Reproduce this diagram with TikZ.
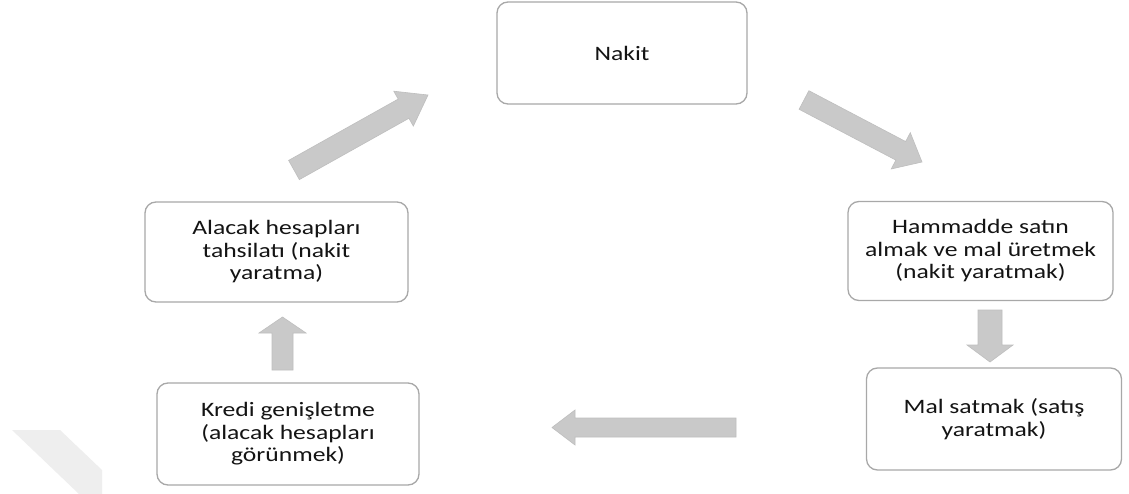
\documentclass[tikz,border=0pt]{standalone}
\usepackage{fontspec}
\setmainfont[FakeStretch=1.25]{Carlito}
\usetikzlibrary{calc}
\definecolor{boxline}{HTML}{A8A8A8}
\definecolor{arrowfill}{HTML}{C9C9C9}
\definecolor{arrowline}{HTML}{BEBEBE}
\definecolor{wm}{HTML}{EEEEEE}
\definecolor{txt}{HTML}{141414}
\tikzset{
  box/.style={draw=boxline, line width=1.3pt, rounded corners=11pt, fill=white,
    align=center, text=txt, font=\fontsize{20.5}{22.5}\selectfont, inner sep=0pt},
  blockarrowstyle/.style={fill=arrowfill, draw=arrowline, line width=0.6pt, line join=miter},
}
% #1 tail coordinate, #2 tip coordinate, #3 half shaft width, #4 half head width, #5 head length
\newcommand\myblockarrow[5]{%
  \coordinate (#1b) at ($(#2)!#5!(#1)$);
  \path[blockarrowstyle]
    ($(#1)!#3!90:(#2)$) -- ($(#1b)!#3!90:(#2)$) -- ($(#1b)!#4!90:(#2)$) --
    (#2) --
    ($(#1b)!#4!-90:(#2)$) -- ($(#1b)!#3!-90:(#2)$) -- ($(#1)!#3!-90:(#2)$) -- cycle;
}
\begin{document}
\begin{tikzpicture}[x=1pt,y=-1pt]
\fill[white] (0,0) rectangle (1129,494);
\useasboundingbox (0,0) rectangle (1129,494);
% faint watermark
\fill[wm] (12,430) -- (60,430) -- (102,470) -- (102,494) -- (79,494) -- cycle;

% boxes
\node[box, minimum width=250pt, minimum height=102pt] (nakit) at (622,53) {Nakit};
\node[box, minimum width=265pt, minimum height=99pt] (hammadde) at (980.5,251) {Hammadde satın\\almak ve mal üretmek\\(nakit yaratmak)};
\node[box, minimum width=255pt, minimum height=102pt] (mal) at (994,419) {Mal satmak (satış\\yaratmak)};
\node[box, minimum width=262pt, minimum height=102pt] (kredi) at (288,434) {Kredi genişletme\\(alacak hesapları\\görünmek)};
\node[box, minimum width=263pt, minimum height=100pt] (alacak) at (276.5,252) {Alacak hesapları\\tahsilatı (nakit\\yaratma)};

% arrow end points
\coordinate (a1) at (294,170);  \coordinate (a1tip) at (428,95);
\coordinate (a2) at (804,100);  \coordinate (a2tip) at (922,162);
\coordinate (a3) at (990,310);  \coordinate (a3tip) at (990,362);
\coordinate (a4) at (736,427.5);\coordinate (a4tip) at (552,427.5);
\coordinate (a5) at (282.5,370);\coordinate (a5tip) at (282.5,317);

\myblockarrow{a1}{a1tip}{11pt}{20pt}{28pt}
\myblockarrow{a2}{a2tip}{10.5pt}{20.5pt}{24pt}
\myblockarrow{a3}{a3tip}{12pt}{23pt}{17pt}
\myblockarrow{a4}{a4tip}{9.5pt}{17.5pt}{23pt}
\myblockarrow{a5}{a5tip}{10.5pt}{23.5pt}{16pt}
\end{tikzpicture}
\end{document}
